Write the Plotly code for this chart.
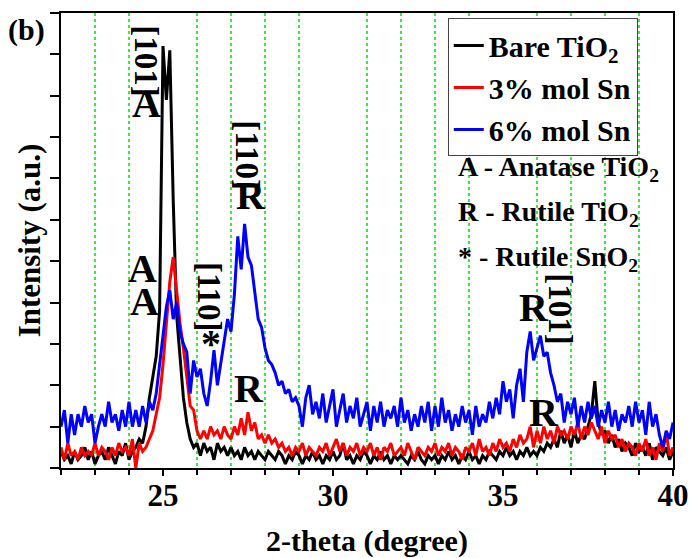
import numpy as np
import plotly.graph_objects as go

# 2-theta grid (degree), 0.1 step
two_theta = np.round(np.arange(22.0, 40.0001, 0.1), 1)

bare_tio2 = [
    0.4, 0.2, 0.3, 0.1, 0.4, 0.2, 0.3, 0.5, 0.2, 0.4,
    0.1, 0.3, 0.4, 0.2, 0.5, 0.3, 0.1, 0.4, 0.3, 0.6,
    0.2, 0.4, 0.5, 0.7, 0.6, 1.0, 1.7, 2.2, 2.7, 3.8,
    10.2, 8.9, 10.1, 6.5, 3.7, 2.7, 1.7, 1.1, 0.7, 0.5,
    0.6, 0.3, 0.6, 0.4, 0.5, 0.2, 0.6, 0.4, 0.5, 0.3,
    0.5, 0.3, 0.4, 0.2, 0.5, 0.3, 0.4, 0.2, 0.4, 0.3,
    0.2, 0.4, 0.3, 0.2, 0.4, 0.3, 0.1, 0.3, 0.2, 0.4,
    0.3, 0.1, 0.3, 0.2, 0.4, 0.2, 0.3, 0.1, 0.3, 0.2,
    0.4, 0.2, 0.3, 0.6, 0.2, 0.3, 0.1, 0.3, 0.2, 0.4,
    0.3, 0.1, 0.3, 0.2, 0.4, 0.2, 0.3, 0.1, 0.3, 0.2,
    0.3, 0.2, 0.1, 0.3, 0.2, 0.4, 0.2, 0.1, 0.3, 0.2,
    0.3, 0.1, 0.3, 0.2, 0.4, 0.2, 0.3, 0.1, 0.3, 0.2,
    0.4, 0.2, 0.3, 0.1, 0.3, 0.2, 0.4, 0.3, 0.2, 0.4,
    0.3, 0.5, 0.3, 0.4, 0.2, 0.4, 0.3, 0.5, 0.3, 0.4,
    0.3, 0.5, 0.4, 0.6, 0.5, 0.7, 0.5, 0.9, 0.6, 0.8,
    0.5, 0.9, 0.6, 0.8, 0.7, 1.0, 1.3, 2.1, 1.1, 0.8,
    0.9, 0.6, 0.8, 0.5, 0.7, 0.4, 0.6, 0.5, 0.3, 0.6,
    0.4, 0.5, 0.3, 0.6, 0.2, 0.5, 0.4, 0.3, 0.5, 0.2,
    0.4,
]

sn_3 = [
    0.5, 0.2, 0.6, 0.3, 0.4, 0.2, 0.5, 0.3, 0.4, 0.3,
    0.6, 0.3, 0.5, 0.4, 0.2, 0.5, 0.3, 0.6, 0.4, 0.5,
    0.3, 0.7, 0.0, 0.6, 0.4, 0.5, 0.7, 0.9, 1.3, 1.7,
    2.5, 3.6, 4.5, 5.1, 4.3, 3.5, 2.9, 2.2, 1.5, 1.4,
    0.9, 0.7, 0.9, 0.7, 1.0, 0.8, 0.9, 0.7, 1.0, 0.8,
    0.7, 1.0, 0.8, 1.2, 0.8, 1.35, 0.9, 1.1, 0.7, 0.8,
    0.6, 0.8, 0.6, 0.7, 0.5, 0.6, 0.4, 0.5, 0.3, 0.5,
    0.4, 0.6, 0.3, 0.5, 0.4, 0.3, 0.5, 0.4, 0.6, 0.3,
    0.5, 0.7, 0.4, 0.6, 0.3, 0.5, 0.4, 0.6, 0.3, 0.5,
    0.4, 0.6, 0.3, 0.5, 0.2, 0.5, 0.4, 0.6, 0.3, 0.4,
    0.5, 0.3, 0.6, 0.4, 0.2, 0.5, 0.4, 0.3, 0.5, 0.4,
    0.6, 0.3, 0.5, 0.4, 0.6, 0.3, 0.5, 0.4, 0.2, 0.5,
    0.4, 0.6, 0.3, 0.7, 0.4, 0.5, 0.3, 0.6, 0.4, 0.7,
    0.5, 0.6, 0.4, 0.7, 0.5, 0.8, 0.6, 0.7, 1.0, 0.5,
    0.9, 0.6, 1.0, 0.7, 0.9, 0.6, 1.0, 0.8, 0.9, 0.7,
    1.0, 0.8, 1.1, 0.7, 1.0, 0.8, 1.1, 0.9, 0.7, 1.0,
    0.6, 0.9, 0.7, 0.8, 0.5, 0.7, 0.4, 0.6, 0.5, 0.3,
    0.6, 0.4, 0.7, 0.3, 0.5, 0.2, 0.6, 0.4, 0.85, 0.3,
    0.5,
]

sn_6 = [
    1.0, 1.4, 0.6, 1.3, 0.8, 1.3, 1.0, 1.5, 1.1, 1.3,
    0.6, 1.0, 1.3, 1.0, 1.6, 1.1, 1.3, 0.9, 1.4, 1.0,
    1.6, 1.0, 1.4, 1.0, 1.5, 1.1, 1.6, 1.4, 1.8, 2.5,
    3.3, 3.9, 4.3, 3.6, 4.0, 3.3, 3.0, 2.8, 1.8, 2.6,
    2.2, 2.4, 1.8, 1.5, 2.1, 2.85, 2.0, 2.5, 3.0, 3.6,
    3.3, 4.2, 5.6, 4.8, 5.9, 5.1, 4.9, 4.2, 3.6, 3.4,
    2.9, 2.6, 2.5, 2.3, 2.0, 2.1, 1.8, 1.9, 1.6, 1.7,
    1.5, 1.0, 1.7, 2.0, 1.3, 1.6, 1.2, 1.8, 1.1, 1.5,
    1.9, 1.0, 1.4, 1.8, 1.1, 1.5, 1.2, 1.7, 1.0, 1.3,
    1.6, 0.9, 1.5, 1.1, 1.6, 1.0, 1.4, 1.2, 1.5, 1.0,
    1.7, 1.1, 1.4, 0.9, 1.3, 1.0, 1.5, 1.1, 1.6, 0.9,
    1.5, 1.0, 1.7, 1.1, 1.4, 0.9, 1.3, 1.0, 1.5, 1.1,
    1.4, 0.8, 1.5, 1.0, 1.3, 1.1, 1.6, 1.2, 1.7, 1.3,
    2.1, 1.6, 1.9, 1.2, 2.0, 2.4, 1.6, 2.8, 3.3, 2.6,
    2.9, 3.2, 2.7, 2.8, 2.3, 2.0, 1.6, 1.8, 1.1, 1.6,
    1.3, 1.7, 1.0, 1.5, 1.1, 1.6, 1.2, 1.5, 1.0, 1.4,
    1.1, 1.6, 1.0, 1.4, 0.9, 1.3, 1.1, 1.5, 1.0, 1.6,
    1.1, 1.4, 0.8, 1.6, 1.0, 1.3, 0.8, 0.5, 0.9, 0.7,
    1.1,
]

series_names = ["Bare TiO<sub>2</sub>", "3% mol Sn", "6% mol Sn"]
series_colors = ["#000000", "#ff0000", "#0000ff"]
series_values = [bare_tio2, sn_3, sn_6]

FONT = "Liberation Serif"

fig = go.Figure()
for i, (name, col, vals) in enumerate(zip(series_names, series_colors, series_values)):
    fig.add_trace(go.Scatter(
        x=two_theta, y=vals, mode="lines", name=name,
        legendgroup=f"g{i}",
        line=dict(color=col, width=3),
    ))

# peak labels: (text, x, y, size, angle)
peak_labels = [
    ("A", 24.51, 8.82, 40, 0),
    ("[101]", 24.51, 9.85, 33, 90),
    ("A", 24.40, 4.83, 40, 0),
    ("A", 24.46, 4.02, 40, 0),
    ("[110]", 27.47, 7.56, 33, 90),
    ("R", 27.58, 6.59, 40, 0),
    ("*", 26.42, 3.02, 40, 0),
    ("[110]", 26.36, 4.13, 33, 90),
    ("R", 27.53, 1.93, 40, 0),
    ("R", 35.92, 3.89, 40, 0),
    ("[101]", 36.68, 3.86, 33, 90),
    ("R", 36.21, 1.33, 40, 0),
]
for txt, xx, yy, sz, ang in peak_labels:
    fig.add_annotation(x=xx, y=yy, xref="x", yref="y", text=txt, showarrow=False,
                       xanchor="center", yanchor="middle", textangle=ang,
                       font=dict(family=FONT, size=sz, color="black", weight="bold"))

# phase key
phase_key = [
    ("A - Anatase TiO<sub>2</sub>", 7.25),
    ("R - Rutile TiO<sub>2</sub>", 6.16),
    ("* - Rutile SnO<sub>2</sub>", 5.07),
]
for txt, yy in phase_key:
    fig.add_annotation(x=33.61, y=yy, xref="x", yref="y", text=txt, showarrow=False,
                       xanchor="left", yanchor="middle",
                       font=dict(family=FONT, size=28, color="black", weight="bold"))

fig.add_annotation(x=-0.056, y=0.963, xref="paper", yref="paper", text="(b)", showarrow=False,
                   xanchor="center", yanchor="middle",
                   font=dict(family=FONT, size=30, color="black", weight="bold"))

fig.update_layout(
    width=696, height=558,
    margin=dict(l=61, r=23, t=13, b=90),
    paper_bgcolor="white", plot_bgcolor="white",
    font=dict(family=FONT, color="black", weight="bold"),
    showlegend=True,
    legend=dict(
        x=0.632, y=0.988, xanchor="left", yanchor="top",
        bgcolor="white", bordercolor="#444444", borderwidth=1,
        font=dict(family=FONT, size=30, color="black", weight="bold"),
        tracegroupgap=0,
    ),
    xaxis=dict(
        range=[22, 40], dtick=5, tick0=0, automargin=False,
        showline=True, linecolor="black", linewidth=2, mirror=True,
        ticks="outside", ticklen=6, tickwidth=2, tickcolor="black",
        ticklabelstandoff=-7,
        showgrid=False, zeroline=False,
        tickfont=dict(family=FONT, size=31, color="black", weight="bold"),
        minor=dict(dtick=1, tick0=0, ticks="outside", ticklen=5, tickwidth=1.5, tickcolor="black",
                   showgrid=True, gridcolor="#33ee33", griddash="dot", gridwidth=1.6),
        title=dict(text="2-theta (degree)", standoff=19,
                   font=dict(family=FONT, size=30, color="black", weight="bold")),
    ),
    yaxis=dict(
        range=[0, 11], dtick=1, tick0=0, automargin=False,
        showline=True, linecolor="black", linewidth=2, mirror=True,
        ticks="outside", ticklen=9, tickwidth=2, tickcolor="black",
        showticklabels=False, showgrid=False, zeroline=False,
        title=dict(text="Intensity (a.u.)", standoff=0,
                   font=dict(family=FONT, size=31, color="black", weight="bold")),
    ),
)

fig.write_html("out.html", config={"displayModeBar": False},
               post_script="document.body.style.margin='0';")
